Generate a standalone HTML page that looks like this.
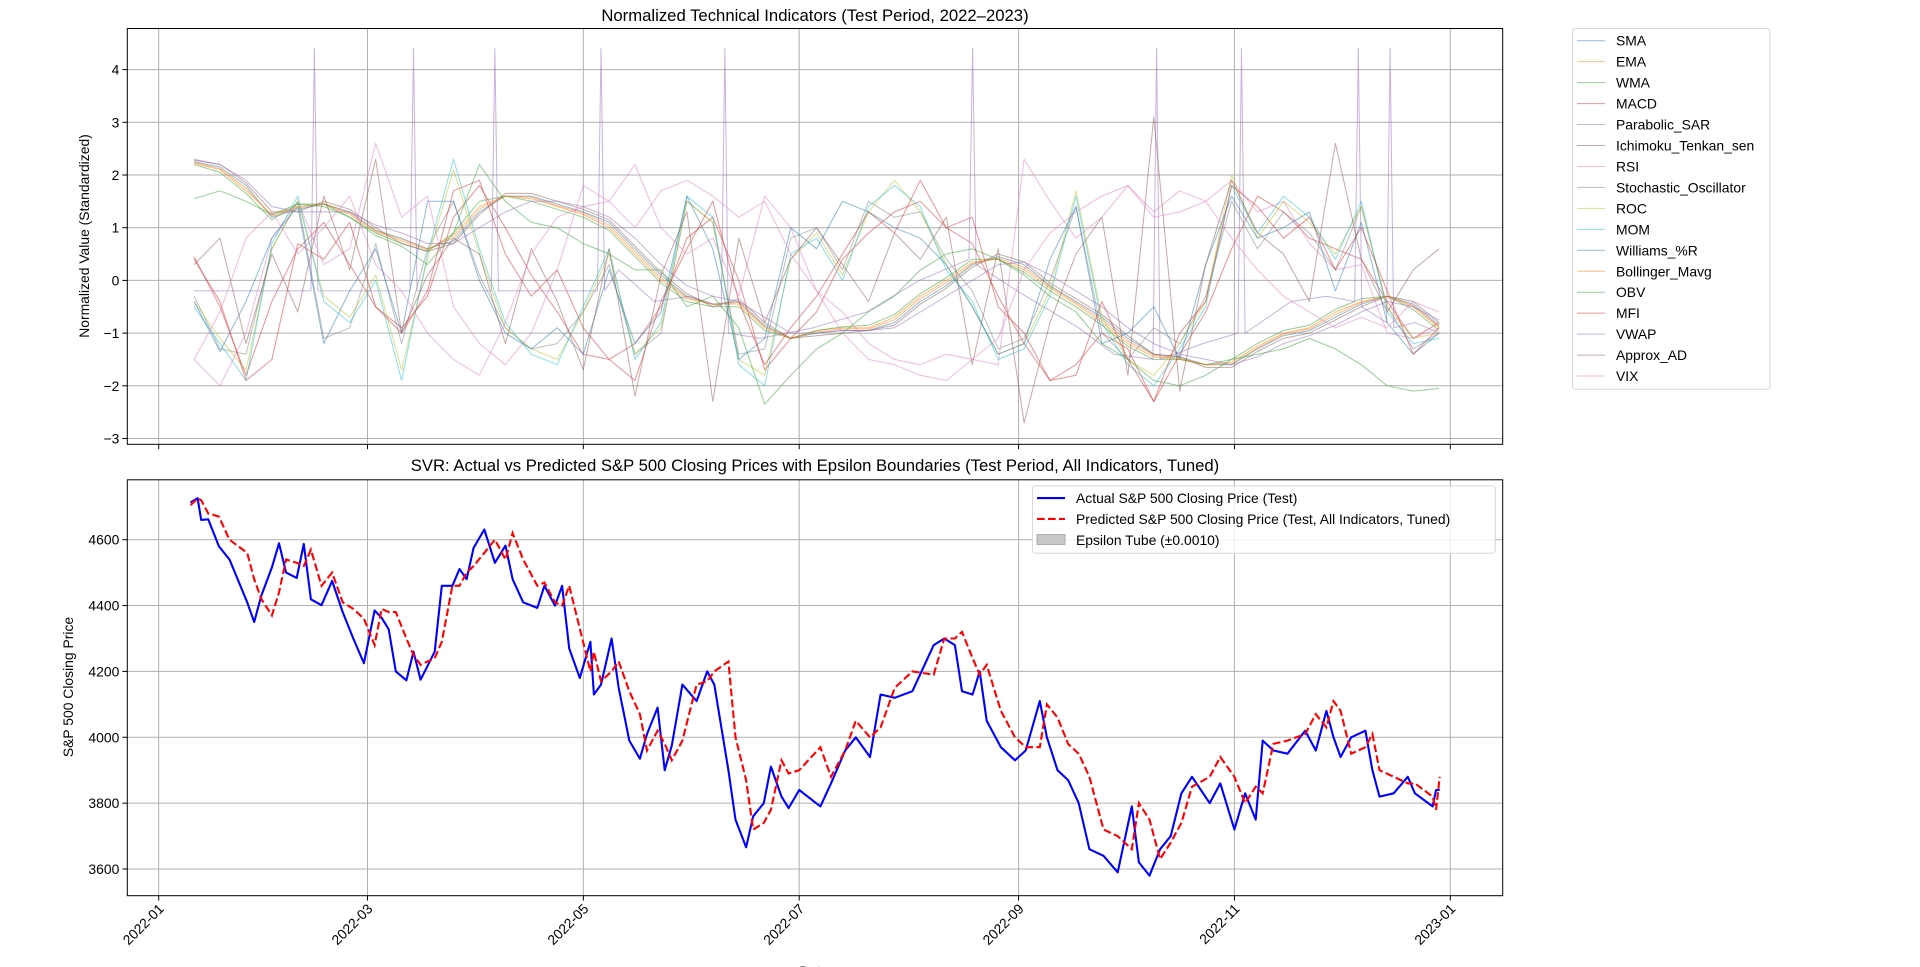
<!DOCTYPE html>
<html><head><meta charset="utf-8"><title>Indicators and SVR chart</title>
<style>html,body{margin:0;padding:0;background:#fff}svg{display:block;font-family:"Liberation Sans","DejaVu Sans",sans-serif}</style>
</head><body>
<svg id="fig" width="1920" height="967" viewBox="0 0 1920 967" xmlns="http://www.w3.org/2000/svg">
<g id="topPanel"></g>
<g id="botPanel"></g>
</svg>
<script>
// ---- indicator data (value every ~7.33 days starting day 10 of 2022) ----
const indStartDay = 10;
const indStep = 7.33;
const SMA = [2.25,2.15,1.8,1.2,1.35,1.45,1.3,0.95,0.8,0.6,0.75,1.3,1.6,1.6,1.45,1.3,1.1,0.6,0.1,-0.3,-0.45,-0.4,-0.85,-1.1,-1.0,-0.95,-0.95,-0.8,-0.4,-0.1,0.3,0.45,0.3,-0.1,-0.4,-0.7,-1.1,-1.4,-1.45,-1.6,-1.6,-1.3,-1.05,-0.95,-0.7,-0.45,-0.3,-0.45,-0.85];
const EMA = [2.22,2.1,1.7,1.25,1.4,1.45,1.25,0.92,0.75,0.58,0.85,1.4,1.6,1.55,1.4,1.25,1.0,0.5,0.0,-0.35,-0.45,-0.45,-0.9,-1.1,-0.95,-0.9,-0.9,-0.7,-0.3,0.0,0.35,0.4,0.2,-0.15,-0.45,-0.8,-1.2,-1.45,-1.5,-1.6,-1.55,-1.25,-1.0,-0.9,-0.6,-0.4,-0.3,-0.5,-0.9];
const WMA = [2.2,2.05,1.65,1.15,1.45,1.45,1.2,0.9,0.7,0.55,0.9,1.5,1.6,1.5,1.35,1.2,0.95,0.45,-0.05,-0.4,-0.5,-0.5,-0.95,-1.1,-0.95,-0.88,-0.85,-0.65,-0.25,0.05,0.4,0.4,0.15,-0.2,-0.5,-0.85,-1.25,-1.5,-1.5,-1.6,-1.5,-1.2,-0.95,-0.85,-0.55,-0.35,-0.3,-0.55,-0.95];
const MACD = [0.45,-0.5,-1.8,-0.4,0.6,1.1,0.3,-0.5,-0.9,-0.3,1.2,1.8,1.0,0.1,-0.6,-1.4,-1.5,-1.2,-0.5,0.8,1.2,0.0,-1.7,-1.1,-0.6,0.4,0.9,1.3,1.5,1.0,0.7,-0.3,-1.2,-1.9,-1.6,-1.0,-1.3,-2.3,-1.4,-0.6,0.6,1.6,1.3,0.8,0.6,0.4,-0.4,-1.1,-0.8];
const Ichimoku = [2.28,2.2,1.85,1.3,1.3,1.5,1.35,1.0,0.7,0.55,0.7,1.25,1.65,1.65,1.5,1.35,1.15,0.65,0.15,-0.25,-0.5,-0.35,-0.8,-1.1,-1.05,-1.0,-0.95,-0.85,-0.45,-0.15,0.25,0.5,0.35,-0.05,-0.35,-0.65,-1.05,-1.4,-1.45,-1.65,-1.65,-1.35,-1.1,-1.0,-0.75,-0.5,-0.3,-0.4,-0.8];
const RSI = [-1.5,-2.0,-1.0,0.8,1.5,0.3,0.6,2.6,1.2,1.6,-0.5,-1.2,-1.6,-1.0,0.2,1.8,1.5,2.2,1.0,0.5,0.8,-0.3,1.6,1.0,-0.2,-1.0,-1.5,-1.6,-1.8,-1.9,-1.5,-1.6,2.3,1.5,0.8,1.2,1.8,1.3,1.7,1.5,1.9,1.3,1.5,0.7,0.2,0.3,-1.0,-1.1,-0.9];
const Stochastic = [-0.3,-1.3,-1.4,0.6,1.5,-1.1,-0.9,0.7,-1.2,0.6,1.5,0.1,-0.9,-1.3,-1.2,-0.6,0.3,-1.4,-1.0,1.5,1.1,-1.4,-1.3,0.8,1.0,0.2,1.5,1.2,1.3,0.4,-0.2,-1.3,-1.1,0.0,1.4,-1.0,-1.5,-0.9,-1.2,-0.3,1.5,0.6,1.3,0.9,0.2,1.4,-0.5,-1.3,-1.0];
const ROC = [-0.4,-1.1,-1.7,0.6,1.5,-0.3,-0.7,0.1,-1.7,0.4,2.1,0.5,-0.9,-1.3,-1.5,-0.6,0.5,-1.4,-0.9,1.5,1.1,-1.5,-1.8,0.4,0.9,0.1,1.3,1.9,1.3,0.3,-0.5,-1.4,-1.2,-0.2,1.7,-0.7,-1.5,-1.8,-1.2,-0.4,2.0,0.8,1.5,1.1,0.5,1.4,-0.5,-1.1,-1.0];
const MOM = [-0.5,-1.2,-1.9,0.7,1.6,-0.4,-0.8,0.0,-1.9,0.5,2.3,0.6,-0.8,-1.4,-1.6,-0.5,0.6,-1.5,-0.8,1.6,1.2,-1.6,-2.0,0.5,0.8,0.0,1.4,1.8,1.4,0.2,-0.4,-1.5,-1.3,-0.3,1.6,-0.8,-1.6,-2.0,-1.3,-0.5,1.8,0.9,1.6,1.2,0.4,1.5,-0.6,-1.2,-1.1];
const Williams = [-0.4,-1.35,-0.4,0.8,1.4,-1.2,-0.2,0.6,-1.0,1.5,1.5,0.0,-1.0,-1.3,-0.9,-1.4,0.2,-1.2,-0.6,1.6,0.6,-1.5,-1.1,1.0,0.6,1.5,1.3,1.0,0.8,0.3,-0.5,-1.4,-1.2,0.4,1.4,-1.2,-1.0,-0.5,-1.5,0.3,1.6,0.8,1.0,1.3,-0.2,1.1,-0.8,-1.4,-1.0];
const Bollinger = [2.24,2.12,1.75,1.22,1.38,1.46,1.28,0.94,0.78,0.6,0.8,1.35,1.6,1.58,1.42,1.28,1.05,0.55,0.05,-0.32,-0.46,-0.42,-0.88,-1.1,-0.98,-0.92,-0.92,-0.75,-0.35,-0.05,0.32,0.42,0.25,-0.12,-0.42,-0.75,-1.15,-1.42,-1.48,-1.6,-1.58,-1.28,-1.02,-0.92,-0.65,-0.42,-0.3,-0.48,-0.88];
const OBV = [1.55,1.7,1.5,1.25,1.45,1.4,1.2,0.85,0.65,0.3,0.9,2.2,1.5,1.1,1.0,0.7,0.5,0.2,0.2,-0.5,-0.3,-0.9,-2.35,-1.8,-1.3,-1.0,-0.6,-0.3,0.2,0.5,0.6,0.4,0.1,-0.3,-0.6,-1.2,-1.5,-1.9,-2.0,-1.8,-1.5,-1.4,-1.3,-1.1,-1.3,-1.6,-2.0,-2.1,-2.05];
const MFI = [0.4,-0.4,-1.9,-1.5,0.7,0.4,1.1,-0.5,-1.0,-0.2,1.7,1.9,0.5,-0.3,0.2,-0.9,-1.5,-1.9,-0.4,0.6,1.5,-0.4,-1.6,-0.9,-0.3,0.5,1.3,0.9,1.9,1.0,1.2,-0.5,-1.0,-1.9,-1.8,-0.4,-1.5,-2.3,-1.0,-0.4,1.8,1.4,0.8,1.2,0.2,1.0,-0.2,-1.4,-0.9];
const VWAP = [2.3,2.2,1.9,1.4,1.3,1.3,1.3,1.05,0.9,0.7,0.7,1.0,1.3,1.5,1.5,1.4,1.2,0.8,0.3,-0.1,-0.3,-0.4,-0.7,-1.0,-1.0,-0.95,-0.95,-0.9,-0.6,-0.3,0.0,0.3,0.35,0.1,-0.2,-0.5,-0.9,-1.2,-1.4,-1.5,-1.6,-1.45,-1.2,-1.05,-0.85,-0.6,-0.4,-0.5,-0.75];
const ApproxAD = [0.3,0.8,-1.2,0.5,-0.6,1.6,0.2,2.3,-1.0,0.1,0.8,0.5,-1.2,0.6,-0.4,-1.7,0.6,-2.2,0.1,1.3,-2.3,0.8,-0.8,0.4,1.0,0.3,-0.4,0.9,0.4,1.2,-1.6,0.6,-2.7,-0.8,0.5,1.2,-1.8,3.1,-2.1,0.3,1.9,0.9,0.5,-0.4,2.6,0.4,-0.6,0.2,0.6];
const VIX = [-1.5,-0.6,0.8,1.3,0.5,1.0,1.6,0.3,-0.2,-1.0,-1.5,-1.8,-0.8,0.5,1.2,1.4,1.5,1.0,1.7,1.9,1.6,1.2,1.5,0.5,-0.2,-0.6,-1.2,-1.5,-1.6,-1.4,-1.5,-1.1,0.2,0.9,1.3,1.6,1.8,1.2,1.3,1.5,0.8,0.2,-0.3,-0.6,-0.9,-0.7,-0.9,-0.4,-0.6];
const sarDays = [10,43,44,45,71,72,73,94,95,96,120,124,125,126,130,140,150,159,160,161,170,185,200,215,229,230,231,245,260,270,281,282,283,295,305,306,307,320,330,338,339,340,347,348,349,355,362];
const sarVals = [-0.2,-0.2,4.4,-0.2,-0.2,4.4,-0.2,-0.2,4.4,-0.2,-0.2,-0.2,4.4,-0.2,0.2,-0.4,-0.3,-0.5,4.4,-1.0,-1.1,-0.9,-0.6,0.0,0.4,4.4,0.3,-0.3,-0.9,-1.4,-1.5,4.4,-1.5,-1.2,-1.0,4.4,-1.0,-0.4,-0.3,-0.4,4.4,-0.5,-0.8,4.4,-0.9,-0.8,-1.0];
const indNames = ["SMA","EMA","WMA","MACD","Parabolic_SAR","Ichimoku_Tenkan_sen","RSI","Stochastic_Oscillator","ROC","MOM","Williams_%R","Bollinger_Mavg","OBV","MFI","VWAP","Approx_AD","VIX"];
const indSeries = [SMA,EMA,WMA,MACD,null,Ichimoku,RSI,Stochastic,ROC,MOM,Williams,Bollinger,OBV,MFI,VWAP,ApproxAD,VIX];
const topTicks = [4,3,2,1,0,-1,-2,-3];

// ---- price data (day of year 2022) ----
const priceDays = [9,11,12,14,17,20,25,27,29,32,34,36,39,41,43,46,49,52,55,58,61,63,65,67,70,72,74,78,80,83,85,87,89,92,95,98,100,103,107,109,112,114,116,119,122,123,125,128,130,133,136,138,141,143,145,148,152,155,157,161,163,166,168,171,173,176,178,181,187,190,194,197,201,204,208,213,219,222,225,227,230,232,234,238,242,245,249,251,254,257,260,263,267,271,275,277,280,283,286,289,292,297,300,304,307,310,312,315,319,324,327,330,332,334,337,341,343,345,349,353,355,360,361,362];
const actual = [4713,4726,4660,4662,4580,4540,4410,4350,4430,4516,4589,4500,4484,4587,4419,4401,4475,4380,4300,4225,4385,4363,4328,4200,4173,4260,4175,4260,4460,4460,4511,4480,4575,4631,4530,4582,4480,4410,4393,4460,4400,4460,4270,4180,4290,4130,4160,4300,4150,3990,3935,4010,4090,3900,3975,4160,4110,4200,4160,3900,3750,3666,3760,3800,3911,3820,3785,3840,3790,3860,3960,4000,3940,4130,4120,4140,4280,4300,4280,4140,4130,4200,4050,3970,3930,3960,4110,4000,3900,3870,3800,3660,3640,3590,3790,3620,3580,3660,3700,3830,3880,3800,3860,3720,3830,3750,3990,3960,3950,4020,3960,4080,4000,3940,4000,4020,3900,3820,3830,3880,3830,3790,3840,3840];
const predicted = [4705,4725,4720,4680,4670,4600,4560,4480,4420,4370,4440,4540,4530,4520,4570,4460,4500,4410,4390,4360,4280,4390,4380,4380,4300,4250,4220,4240,4290,4460,4460,4500,4520,4560,4600,4540,4620,4540,4460,4470,4410,4400,4460,4330,4200,4260,4170,4200,4230,4140,4070,3960,4020,3980,3930,3990,4160,4170,4200,4230,4000,3870,3720,3740,3780,3930,3890,3900,3970,3880,3960,4050,4000,4030,4150,4200,4190,4300,4300,4320,4240,4190,4220,4080,4000,3970,3970,4100,4060,3980,3950,3880,3720,3700,3660,3800,3750,3630,3680,3740,3850,3880,3940,3880,3800,3850,3830,3980,3990,4010,4070,4030,4110,4080,3950,3970,4010,3900,3880,3860,3860,3820,3780,3880];
const botTicks = [4600,4400,4200,4000,3800,3600];
const monthTicks = [[0,"2022-01"],[59,"2022-03"],[120,"2022-05"],[181,"2022-07"],[243,"2022-09"],[304,"2022-11"],[365,"2023-01"]];

const colors = ["#1f77b4","#ff7f0e","#2ca02c","#d62728","#9467bd","#8c564b","#e377c2","#7f7f7f","#bcbd22","#17becf"];
const NS = "http://www.w3.org/2000/svg";
function mk(tag, attrs, parent, text){ const e=document.createElementNS(NS,tag); for(const k in attrs) e.setAttribute(k,attrs[k]); if(text!==undefined) e.textContent=text; parent.appendChild(e); return e; }

const AX = {l:127.3, r:1502.7};
const TB = {t:28.5, b:444.3};
const BB = {t:479.8, b:895.7};
function xDay(d){ return 158.7 + d*3.5386; }
function yInd(v){ return 280.4 - v*52.7; }
function yPrice(v){ return 869 - (v-3600)*0.3293; }
const FS = 13.9;

const gTop = document.getElementById('topPanel');
const gBot = document.getElementById('botPanel');

function axesFrame(g, box, name){
  const r = mk('rect',{x:AX.l,y:box.t,width:AX.r-AX.l,height:box.b-box.t,fill:'none',stroke:'#000','stroke-width':1},g);
  
  
}
function xGrid(g, box, labels){
  monthTicks.forEach(([d,lab])=>{
    const x=xDay(d);
    const gl = mk('line',{x1:x,x2:x,y1:box.t,y2:box.b,stroke:'#b0b0b0','stroke-width':1},g);
    
    
    mk('line',{x1:x,x2:x,y1:box.b,y2:box.b+4.9,stroke:'#000','stroke-width':1},g);
    if(labels){
      const t = mk('text',{x:0,y:0,'font-size':FS,'text-anchor':'end',fill:'#000',transform:`translate(${x+6},${box.b+14}) rotate(-45)`},g,lab);
      
      
    }
  });
}
function yGrid(g, ticks, yf, name){
  ticks.forEach(v=>{
    const y=yf(v);
    const gl = mk('line',{x1:AX.l,x2:AX.r,y1:y,y2:y,stroke:'#b0b0b0','stroke-width':1},g);
    
    
    mk('line',{x1:AX.l-4.9,x2:AX.l,y1:y,y2:y,stroke:'#000','stroke-width':1},g);
    const t = mk('text',{x:AX.l-8,y:y+5,'font-size':FS,'text-anchor':'end',fill:'#000'},g,(v<0?'\u2212'+Math.abs(v):String(v)));
    
    
  });
}

// ---- top panel ----
xGrid(gTop, TB, false);
yGrid(gTop, topTicks, yInd, 'top-y');
indNames.forEach((nm,i)=>{
  let pts;
  if(indSeries[i]===null){ pts = sarDays.map((d,k)=>xDay(d).toFixed(1)+','+yInd(sarVals[k]).toFixed(1)); }
  else { pts = indSeries[i].map((v,k)=>xDay(indStartDay+k*indStep).toFixed(1)+','+yInd(v).toFixed(1)); }
  const pl = mk('polyline',{points:pts.join(' '),fill:'none',stroke:colors[i%10],'stroke-width':1,'stroke-opacity':0.5,'stroke-linejoin':'round'},gTop);
  
  
});
axesFrame(gTop, TB, 'indicators-axes');
const t1 = mk('text',{x:815,y:21,'font-size':16.7,'text-anchor':'middle',fill:'#000'},gTop,'Normalized Technical Indicators (Test Period, 2022\u20132023)');


const yl1 = mk('text',{x:0,y:0,'font-size':FS,'text-anchor':'middle',fill:'#000',transform:'translate(89,236) rotate(-90)'},gTop,'Normalized Value (Standardized)');


const lg = mk('g',{},gTop);


mk('rect',{x:1572.5,y:28.5,width:197.5,height:360.8,rx:3,fill:'#fff','fill-opacity':0.8,stroke:'#d6d6d6','stroke-width':1},lg);
indNames.forEach((nm,i)=>{
  const y = 40.7 + i*20.96;
  const e = mk('g',{},lg);
  
  
  mk('line',{x1:1577,x2:1605,y1:y,y2:y,stroke:colors[i%10],'stroke-width':1,'stroke-opacity':0.5},e);
  mk('text',{x:1616,y:y+5,'font-size':FS,fill:'#000'},e,nm);
});

// ---- bottom panel ----
xGrid(gBot, BB, true);
yGrid(gBot, botTicks, yPrice, 'price-y');
const ap = mk('polyline',{points:priceDays.map((d,k)=>xDay(d).toFixed(1)+','+yPrice(actual[k]).toFixed(1)).join(' '),fill:'none',stroke:'#0000ff','stroke-width':2.1,'stroke-linejoin':'round'},gBot);


const pp = mk('polyline',{points:priceDays.map((d,k)=>xDay(d).toFixed(1)+','+yPrice(predicted[k]).toFixed(1)).join(' '),fill:'none',stroke:'#ff0000','stroke-width':2.1,'stroke-dasharray':'7.7,3.3'},gBot);


axesFrame(gBot, BB, 'price-axes');
const t2 = mk('text',{x:815,y:471,'font-size':16.7,'text-anchor':'middle',fill:'#000'},gBot,'SVR: Actual vs Predicted S&P 500 Closing Prices with Epsilon Boundaries (Test Period, All Indicators, Tuned)');


const yl2 = mk('text',{x:0,y:0,'font-size':FS,'text-anchor':'middle',fill:'#000',transform:'translate(73,687) rotate(-90)'},gBot,'S&P 500 Closing Price');


const xl = mk('text',{x:814,y:976,'font-size':FS,'text-anchor':'middle',fill:'#000'},gBot,'Date');


const lg2 = mk('g',{},gBot);


mk('rect',{x:1032.4,y:485.9,width:462.8,height:67.3,rx:3,fill:'#fff','fill-opacity':0.8,stroke:'#d6d6d6','stroke-width':1},lg2);
const le1 = mk('g',{},lg2);


mk('line',{x1:1037,x2:1065,y1:498.1,y2:498.1,stroke:'#0000ff','stroke-width':2.1},le1);
mk('text',{x:1076,y:503,'font-size':FS,fill:'#000'},le1,'Actual S&P 500 Closing Price (Test)');
const le2 = mk('g',{},lg2);


mk('line',{x1:1037,x2:1065,y1:518.9,y2:518.9,stroke:'#ff0000','stroke-width':2.1,'stroke-dasharray':'7.7,3.3'},le2);
mk('text',{x:1076,y:524,'font-size':FS,fill:'#000'},le2,'Predicted S&P 500 Closing Price (Test, All Indicators, Tuned)');
const le3 = mk('g',{},lg2);


mk('rect',{x:1037,y:534.5,width:28,height:10,fill:'#c8c8c8',stroke:'#a0a0a0','stroke-width':0.8},le3);
mk('text',{x:1076,y:545,'font-size':FS,fill:'#000'},le3,'Epsilon Tube (\u00b10.0010)');
</script>
</body></html>
